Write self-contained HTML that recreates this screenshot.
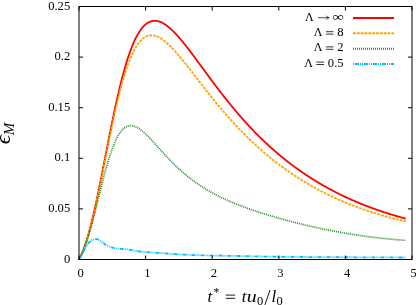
<!DOCTYPE html>
<html><head><meta charset="utf-8"><title>plot</title>
<style>
html,body{margin:0;padding:0;background:#fff;}
svg{display:block;will-change:transform;}
text{font-family:"Liberation Serif",serif;fill:#000;}
.tk{font-size:12px;}
.it{font-style:italic;}
</style></head><body>
<svg width="416" height="305" viewBox="0 0 416 305">
<rect x="0" y="0" width="416" height="305" fill="#fff"/>
<g fill="none" stroke-linejoin="round">
<path d="M79.00,259.50 L79.25,259.04 L79.75,258.07 L80.25,257.07 L80.75,256.02 L81.25,254.93 L81.75,253.80 L82.25,252.62 L82.75,251.39 L83.25,250.12 L83.75,248.81 L84.25,247.44 L84.75,246.03 L85.25,244.58 L85.75,243.08 L86.25,241.53 L86.75,239.94 L87.25,238.31 L87.75,236.62 L88.25,234.90 L88.75,233.13 L89.25,231.31 L89.75,229.46 L90.25,227.56 L90.75,225.62 L91.25,223.64 L91.75,221.63 L92.25,219.57 L92.75,217.48 L93.25,215.35 L93.75,213.19 L94.25,210.99 L94.75,208.76 L95.25,206.50 L95.75,204.21 L96.25,201.89 L96.75,199.54 L97.25,197.17 L97.75,194.78 L98.25,192.36 L98.75,189.92 L99.25,187.46 L99.75,184.98 L100.25,182.49 L100.75,179.98 L101.25,177.46 L101.75,174.93 L102.25,172.38 L102.75,169.83 L103.25,167.27 L103.75,164.70 L104.25,162.13 L104.75,159.56 L105.25,156.98 L105.75,154.41 L106.25,151.83 L106.75,149.26 L107.25,146.70 L107.75,144.14 L108.25,141.59 L108.75,139.04 L109.25,136.51 L109.75,133.98 L110.25,131.47 L110.75,128.98 L111.25,126.49 L111.75,124.03 L112.25,121.58 L112.75,119.14 L113.25,116.73 L113.75,114.34 L114.25,111.97 L114.75,109.62 L115.25,107.29 L115.75,104.99 L116.25,102.71 L116.75,100.46 L117.25,98.23 L117.75,96.03 L118.25,93.86 L118.75,91.72 L119.25,89.60 L119.75,87.52 L120.25,85.46 L120.75,83.44 L121.25,81.44 L121.75,79.48 L122.25,77.55 L122.75,75.65 L123.25,73.78 L123.75,71.95 L124.25,70.15 L124.75,68.38 L125.25,66.65 L125.75,64.95 L126.25,63.29 L126.75,61.65 L127.25,60.06 L127.75,58.49 L128.25,56.97 L128.75,55.47 L129.25,54.01 L129.75,52.59 L130.25,51.20 L130.75,49.84 L131.25,48.52 L131.75,47.23 L132.25,45.98 L132.75,44.76 L133.25,43.57 L133.75,42.42 L134.25,41.30 L134.75,40.22 L135.25,39.17 L135.75,38.15 L136.25,37.16 L136.75,36.21 L137.25,35.29 L137.75,34.40 L138.25,33.54 L138.75,32.71 L139.25,31.92 L139.75,31.15 L140.25,30.42 L140.75,29.71 L141.25,29.04 L141.75,28.39 L142.25,27.78 L142.75,27.19 L143.25,26.63 L143.75,26.10 L144.25,25.60 L144.75,25.12 L145.25,24.67 L145.75,24.25 L146.25,23.86 L146.75,23.49 L147.25,23.14 L147.75,22.82 L148.25,22.53 L148.75,22.26 L149.25,22.01 L149.75,21.79 L150.25,21.59 L150.75,21.42 L151.25,21.26 L151.75,21.13 L152.25,21.02 L152.75,20.93 L153.25,20.86 L153.75,20.82 L154.25,20.79 L154.75,20.78 L155.25,20.79 L155.75,20.82 L156.25,20.87 L156.75,20.94 L157.25,21.03 L157.75,21.13 L158.25,21.25 L158.75,21.39 L159.25,21.54 L159.75,21.71 L160.25,21.90 L160.75,22.10 L161.25,22.32 L161.75,22.55 L162.25,22.80 L162.75,23.06 L163.25,23.33 L163.75,23.62 L164.25,23.92 L164.75,24.24 L165.25,24.57 L165.75,24.90 L166.25,25.26 L166.75,25.62 L167.25,25.99 L167.75,26.38 L168.25,26.78 L168.75,27.18 L169.25,27.60 L169.75,28.03 L170.25,28.47 L170.75,28.91 L171.25,29.37 L171.75,29.84 L172.25,30.31 L172.75,30.79 L173.25,31.28 L173.75,31.78 L174.25,32.29 L174.75,32.81 L175.25,33.33 L175.75,33.86 L176.25,34.39 L176.75,34.94 L177.25,35.49 L177.75,36.04 L178.25,36.60 L178.75,37.17 L179.25,37.74 L179.75,38.32 L180.25,38.91 L180.75,39.50 L181.25,40.09 L181.75,40.69 L182.25,41.30 L182.75,41.91 L183.25,42.52 L183.75,43.14 L184.25,43.76 L184.75,44.38 L185.25,45.01 L185.75,45.64 L186.25,46.28 L186.75,46.92 L187.25,47.56 L187.75,48.20 L188.25,48.85 L188.75,49.50 L189.25,50.15 L189.75,50.81 L190.25,51.47 L190.75,52.13 L191.25,52.79 L191.75,53.45 L192.25,54.12 L192.75,54.78 L193.25,55.45 L193.75,56.12 L194.25,56.80 L194.75,57.47 L195.25,58.14 L195.75,58.82 L196.25,59.50 L196.75,60.17 L197.25,60.85 L197.75,61.53 L198.25,62.21 L198.75,62.89 L199.25,63.57 L199.75,64.25 L200.25,64.93 L200.75,65.61 L201.25,66.30 L201.75,66.98 L202.25,67.66 L202.75,68.34 L203.25,69.02 L203.75,69.71 L204.25,70.39 L204.75,71.07 L205.25,71.75 L205.75,72.43 L206.25,73.11 L206.75,73.79 L207.25,74.47 L207.75,75.15 L208.25,75.82 L208.75,76.50 L209.25,77.18 L209.75,77.85 L210.25,78.53 L210.75,79.20 L211.25,79.87 L211.75,80.54 L212.25,81.22 L212.75,81.88 L213.25,82.55 L213.75,83.22 L214.25,83.89 L214.75,84.55 L215.25,85.21 L215.75,85.88 L216.25,86.54 L216.75,87.20 L217.25,87.85 L217.75,88.51 L218.25,89.17 L218.75,89.82 L219.25,90.47 L219.75,91.12 L220.25,91.77 L220.75,92.42 L221.25,93.07 L221.75,93.71 L222.25,94.35 L222.75,94.99 L223.25,95.63 L223.75,96.27 L224.25,96.91 L224.75,97.54 L225.25,98.17 L225.75,98.80 L226.25,99.43 L226.75,100.06 L227.25,100.68 L227.75,101.31 L228.25,101.93 L228.75,102.55 L229.25,103.17 L229.75,103.78 L230.25,104.40 L230.75,105.01 L231.25,105.62 L231.75,106.23 L232.25,106.83 L232.75,107.44 L233.25,108.04 L233.75,108.64 L234.25,109.24 L234.75,109.83 L235.25,110.43 L235.75,111.02 L236.25,111.61 L236.75,112.20 L237.25,112.78 L237.75,113.37 L238.25,113.95 L238.75,114.53 L239.25,115.11 L239.75,115.69 L240.25,116.26 L240.75,116.83 L241.25,117.40 L241.75,117.97 L242.25,118.54 L242.75,119.10 L243.25,119.66 L243.75,120.22 L244.25,120.78 L244.75,121.33 L245.25,121.89 L245.75,122.44 L246.25,122.99 L246.75,123.53 L247.25,124.08 L247.75,124.62 L248.25,125.16 L248.75,125.70 L249.25,126.24 L249.75,126.78 L250.25,127.31 L250.75,127.84 L251.25,128.37 L251.75,128.89 L252.25,129.42 L252.75,129.94 L253.25,130.46 L253.75,130.98 L254.25,131.50 L254.75,132.01 L255.25,132.52 L255.75,133.03 L256.25,133.54 L256.75,134.05 L257.25,134.55 L257.75,135.05 L258.25,135.56 L258.75,136.05 L259.25,136.55 L259.75,137.04 L260.25,137.54 L260.75,138.03 L261.25,138.51 L261.75,139.00 L262.25,139.49 L262.75,139.97 L263.25,140.45 L263.75,140.93 L264.25,141.40 L264.75,141.88 L265.25,142.35 L265.75,142.82 L266.25,143.29 L266.75,143.76 L267.25,144.22 L267.75,144.68 L268.25,145.14 L268.75,145.60 L269.25,146.06 L269.75,146.52 L270.25,146.97 L270.75,147.42 L271.25,147.87 L271.75,148.32 L272.25,148.76 L272.75,149.21 L273.25,149.65 L273.75,150.09 L274.25,150.53 L274.75,150.96 L275.25,151.40 L275.75,151.83 L276.25,152.26 L276.75,152.69 L277.25,153.12 L277.75,153.54 L278.25,153.97 L278.75,154.39 L279.25,154.81 L279.75,155.23 L280.25,155.64 L280.75,156.06 L281.25,156.47 L281.75,156.88 L282.25,157.29 L282.75,157.70 L283.25,158.11 L283.75,158.51 L284.25,158.91 L284.75,159.31 L285.25,159.71 L285.75,160.11 L286.25,160.51 L286.75,160.90 L287.25,161.29 L287.75,161.68 L288.25,162.07 L288.75,162.46 L289.25,162.85 L289.75,163.23 L290.25,163.61 L290.75,163.99 L291.25,164.37 L291.75,164.75 L292.25,165.12 L292.75,165.50 L293.25,165.87 L293.75,166.24 L294.25,166.61 L294.75,166.98 L295.25,167.35 L295.75,167.71 L296.25,168.07 L296.75,168.43 L297.25,168.79 L297.75,169.15 L298.25,169.51 L298.75,169.86 L299.25,170.22 L299.75,170.57 L300.25,170.92 L300.75,171.27 L301.25,171.62 L301.75,171.96 L302.25,172.31 L302.75,172.65 L303.25,172.99 L303.75,173.33 L304.25,173.67 L304.75,174.01 L305.25,174.34 L305.75,174.68 L306.25,175.01 L306.75,175.34 L307.25,175.67 L307.75,176.00 L308.25,176.32 L308.75,176.65 L309.25,176.97 L309.75,177.30 L310.25,177.62 L310.75,177.94 L311.25,178.25 L311.75,178.57 L312.25,178.89 L312.75,179.20 L313.25,179.51 L313.75,179.82 L314.25,180.13 L314.75,180.44 L315.25,180.75 L315.75,181.06 L316.25,181.36 L316.75,181.66 L317.25,181.97 L317.75,182.27 L318.25,182.57 L318.75,182.86 L319.25,183.16 L319.75,183.46 L320.25,183.75 L320.75,184.04 L321.25,184.33 L321.75,184.62 L322.25,184.91 L322.75,185.20 L323.25,185.49 L323.75,185.77 L324.25,186.05 L324.75,186.34 L325.25,186.62 L325.75,186.90 L326.25,187.18 L326.75,187.45 L327.25,187.73 L327.75,188.00 L328.25,188.28 L328.75,188.55 L329.25,188.82 L329.75,189.09 L330.25,189.36 L330.75,189.63 L331.25,189.90 L331.75,190.16 L332.25,190.42 L332.75,190.69 L333.25,190.95 L333.75,191.21 L334.25,191.47 L334.75,191.73 L335.25,191.98 L335.75,192.24 L336.25,192.50 L336.75,192.75 L337.25,193.00 L337.75,193.25 L338.25,193.50 L338.75,193.75 L339.25,194.00 L339.75,194.25 L340.25,194.49 L340.75,194.74 L341.25,194.98 L341.75,195.22 L342.25,195.47 L342.75,195.71 L343.25,195.95 L343.75,196.18 L344.25,196.42 L344.75,196.66 L345.25,196.89 L345.75,197.13 L346.25,197.36 L346.75,197.59 L347.25,197.82 L347.75,198.05 L348.25,198.28 L348.75,198.51 L349.25,198.73 L349.75,198.96 L350.25,199.18 L350.75,199.41 L351.25,199.63 L351.75,199.85 L352.25,200.07 L352.75,200.29 L353.25,200.51 L353.75,200.73 L354.25,200.95 L354.75,201.16 L355.25,201.38 L355.75,201.59 L356.25,201.80 L356.75,202.01 L357.25,202.22 L357.75,202.43 L358.25,202.64 L358.75,202.85 L359.25,203.06 L359.75,203.26 L360.25,203.47 L360.75,203.67 L361.25,203.88 L361.75,204.08 L362.25,204.28 L362.75,204.48 L363.25,204.68 L363.75,204.88 L364.25,205.08 L364.75,205.27 L365.25,205.47 L365.75,205.66 L366.25,205.86 L366.75,206.05 L367.25,206.24 L367.75,206.43 L368.25,206.62 L368.75,206.81 L369.25,207.00 L369.75,207.19 L370.25,207.38 L370.75,207.56 L371.25,207.75 L371.75,207.93 L372.25,208.12 L372.75,208.30 L373.25,208.48 L373.75,208.66 L374.25,208.84 L374.75,209.02 L375.25,209.20 L375.75,209.38 L376.25,209.56 L376.75,209.73 L377.25,209.91 L377.75,210.08 L378.25,210.26 L378.75,210.43 L379.25,210.60 L379.75,210.77 L380.25,210.94 L380.75,211.11 L381.25,211.28 L381.75,211.45 L382.25,211.62 L382.75,211.78 L383.25,211.95 L383.75,212.11 L384.25,212.28 L384.75,212.44 L385.25,212.60 L385.75,212.77 L386.25,212.93 L386.75,213.09 L387.25,213.25 L387.75,213.41 L388.25,213.56 L388.75,213.72 L389.25,213.88 L389.75,214.03 L390.25,214.19 L390.75,214.34 L391.25,214.50 L391.75,214.65 L392.25,214.80 L392.75,214.95 L393.25,215.10 L393.75,215.25 L394.25,215.40 L394.75,215.55 L395.25,215.70 L395.75,215.85 L396.25,215.99 L396.75,216.14 L397.25,216.29 L397.75,216.43 L398.25,216.57 L398.75,216.72 L399.25,216.86 L399.75,217.00 L400.25,217.14 L400.75,217.28 L401.25,217.42 L401.75,217.56 L402.25,217.70 L402.75,217.84 L403.25,217.97 L403.75,218.11 L404.25,218.25 L404.75,218.38 L405.25,218.52 L405.75,218.65 L405.80,218.66" stroke="#ff0000" stroke-width="1.8"/>
<path d="M79.00,259.50 L79.25,259.07 L79.75,258.17 L80.25,257.23 L80.75,256.25 L81.25,255.22 L81.75,254.15 L82.25,253.04 L82.75,251.88 L83.25,250.67 L83.75,249.42 L84.25,248.12 L84.75,246.77 L85.25,245.38 L85.75,243.94 L86.25,242.45 L86.75,240.92 L87.25,239.34 L87.75,237.71 L88.25,236.04 L88.75,234.32 L89.25,232.55 L89.75,230.75 L90.25,228.90 L90.75,227.00 L91.25,225.07 L91.75,223.09 L92.25,221.07 L92.75,219.02 L93.25,216.93 L93.75,214.80 L94.25,212.64 L94.75,210.44 L95.25,208.21 L95.75,205.95 L96.25,203.66 L96.75,201.35 L97.25,199.00 L97.75,196.64 L98.25,194.25 L98.75,191.83 L99.25,189.40 L99.75,186.95 L100.25,184.49 L100.75,182.00 L101.25,179.51 L101.75,177.00 L102.25,174.49 L102.75,171.97 L103.25,169.44 L103.75,166.90 L104.25,164.37 L104.75,161.83 L105.25,159.29 L105.75,156.75 L106.25,154.22 L106.75,151.69 L107.25,149.17 L107.75,146.66 L108.25,144.15 L108.75,141.66 L109.25,139.18 L109.75,136.71 L110.25,134.26 L110.75,131.82 L111.25,129.41 L111.75,127.01 L112.25,124.63 L112.75,122.27 L113.25,119.93 L113.75,117.62 L114.25,115.33 L114.75,113.06 L115.25,110.83 L115.75,108.61 L116.25,106.43 L116.75,104.28 L117.25,102.15 L117.75,100.05 L118.25,97.99 L118.75,95.95 L119.25,93.95 L119.75,91.98 L120.25,90.04 L120.75,88.14 L121.25,86.27 L121.75,84.43 L122.25,82.63 L122.75,80.87 L123.25,79.13 L123.75,77.44 L124.25,75.78 L124.75,74.15 L125.25,72.56 L125.75,71.01 L126.25,69.49 L126.75,68.01 L127.25,66.56 L127.75,65.15 L128.25,63.78 L128.75,62.44 L129.25,61.14 L129.75,59.87 L130.25,58.64 L130.75,57.45 L131.25,56.29 L131.75,55.17 L132.25,54.08 L132.75,53.02 L133.25,52.00 L133.75,51.02 L134.25,50.06 L134.75,49.15 L135.25,48.26 L135.75,47.41 L136.25,46.59 L136.75,45.81 L137.25,45.05 L137.75,44.33 L138.25,43.64 L138.75,42.98 L139.25,42.35 L139.75,41.75 L140.25,41.18 L140.75,40.64 L141.25,40.13 L141.75,39.65 L142.25,39.19 L142.75,38.77 L143.25,38.37 L143.75,38.00 L144.25,37.65 L144.75,37.33 L145.25,37.04 L145.75,36.77 L146.25,36.53 L146.75,36.31 L147.25,36.11 L147.75,35.94 L148.25,35.79 L148.75,35.67 L149.25,35.56 L149.75,35.48 L150.25,35.42 L150.75,35.38 L151.25,35.36 L151.75,35.36 L152.25,35.39 L152.75,35.43 L153.25,35.49 L153.75,35.56 L154.25,35.66 L154.75,35.77 L155.25,35.90 L155.75,36.05 L156.25,36.22 L156.75,36.40 L157.25,36.59 L157.75,36.81 L158.25,37.03 L158.75,37.28 L159.25,37.53 L159.75,37.80 L160.25,38.09 L160.75,38.38 L161.25,38.69 L161.75,39.02 L162.25,39.35 L162.75,39.70 L163.25,40.06 L163.75,40.43 L164.25,40.81 L164.75,41.20 L165.25,41.60 L165.75,42.01 L166.25,42.44 L166.75,42.87 L167.25,43.31 L167.75,43.76 L168.25,44.22 L168.75,44.69 L169.25,45.16 L169.75,45.65 L170.25,46.14 L170.75,46.64 L171.25,47.14 L171.75,47.66 L172.25,48.18 L172.75,48.70 L173.25,49.24 L173.75,49.77 L174.25,50.32 L174.75,50.87 L175.25,51.43 L175.75,51.99 L176.25,52.55 L176.75,53.12 L177.25,53.70 L177.75,54.28 L178.25,54.87 L178.75,55.45 L179.25,56.05 L179.75,56.64 L180.25,57.24 L180.75,57.85 L181.25,58.46 L181.75,59.07 L182.25,59.68 L182.75,60.30 L183.25,60.91 L183.75,61.54 L184.25,62.16 L184.75,62.79 L185.25,63.42 L185.75,64.05 L186.25,64.68 L186.75,65.31 L187.25,65.95 L187.75,66.59 L188.25,67.23 L188.75,67.87 L189.25,68.51 L189.75,69.15 L190.25,69.80 L190.75,70.44 L191.25,71.09 L191.75,71.74 L192.25,72.38 L192.75,73.03 L193.25,73.68 L193.75,74.33 L194.25,74.98 L194.75,75.63 L195.25,76.28 L195.75,76.93 L196.25,77.58 L196.75,78.23 L197.25,78.88 L197.75,79.53 L198.25,80.18 L198.75,80.83 L199.25,81.47 L199.75,82.12 L200.25,82.77 L200.75,83.42 L201.25,84.06 L201.75,84.71 L202.25,85.35 L202.75,86.00 L203.25,86.64 L203.75,87.29 L204.25,87.93 L204.75,88.57 L205.25,89.21 L205.75,89.85 L206.25,90.49 L206.75,91.12 L207.25,91.76 L207.75,92.39 L208.25,93.03 L208.75,93.66 L209.25,94.29 L209.75,94.92 L210.25,95.55 L210.75,96.17 L211.25,96.80 L211.75,97.42 L212.25,98.04 L212.75,98.66 L213.25,99.28 L213.75,99.90 L214.25,100.52 L214.75,101.13 L215.25,101.75 L215.75,102.36 L216.25,102.97 L216.75,103.57 L217.25,104.18 L217.75,104.79 L218.25,105.39 L218.75,105.99 L219.25,106.59 L219.75,107.19 L220.25,107.78 L220.75,108.38 L221.25,108.97 L221.75,109.56 L222.25,110.15 L222.75,110.73 L223.25,111.32 L223.75,111.90 L224.25,112.48 L224.75,113.06 L225.25,113.64 L225.75,114.22 L226.25,114.79 L226.75,115.36 L227.25,115.93 L227.75,116.50 L228.25,117.06 L228.75,117.63 L229.25,118.19 L229.75,118.75 L230.25,119.31 L230.75,119.86 L231.25,120.42 L231.75,120.97 L232.25,121.52 L232.75,122.07 L233.25,122.62 L233.75,123.16 L234.25,123.70 L234.75,124.24 L235.25,124.78 L235.75,125.32 L236.25,125.85 L236.75,126.39 L237.25,126.92 L237.75,127.44 L238.25,127.97 L238.75,128.50 L239.25,129.02 L239.75,129.54 L240.25,130.06 L240.75,130.57 L241.25,131.09 L241.75,131.60 L242.25,132.11 L242.75,132.62 L243.25,133.13 L243.75,133.63 L244.25,134.13 L244.75,134.64 L245.25,135.13 L245.75,135.63 L246.25,136.13 L246.75,136.62 L247.25,137.11 L247.75,137.60 L248.25,138.09 L248.75,138.57 L249.25,139.06 L249.75,139.54 L250.25,140.02 L250.75,140.50 L251.25,140.97 L251.75,141.45 L252.25,141.92 L252.75,142.39 L253.25,142.86 L253.75,143.32 L254.25,143.79 L254.75,144.25 L255.25,144.71 L255.75,145.17 L256.25,145.62 L256.75,146.08 L257.25,146.53 L257.75,146.98 L258.25,147.43 L258.75,147.88 L259.25,148.33 L259.75,148.77 L260.25,149.21 L260.75,149.65 L261.25,150.09 L261.75,150.53 L262.25,150.96 L262.75,151.40 L263.25,151.83 L263.75,152.26 L264.25,152.69 L264.75,153.11 L265.25,153.54 L265.75,153.96 L266.25,154.38 L266.75,154.80 L267.25,155.22 L267.75,155.63 L268.25,156.05 L268.75,156.46 L269.25,156.87 L269.75,157.28 L270.25,157.68 L270.75,158.09 L271.25,158.49 L271.75,158.89 L272.25,159.29 L272.75,159.69 L273.25,160.09 L273.75,160.48 L274.25,160.88 L274.75,161.27 L275.25,161.66 L275.75,162.05 L276.25,162.44 L276.75,162.82 L277.25,163.20 L277.75,163.59 L278.25,163.97 L278.75,164.35 L279.25,164.72 L279.75,165.10 L280.25,165.47 L280.75,165.84 L281.25,166.21 L281.75,166.58 L282.25,166.95 L282.75,167.32 L283.25,167.68 L283.75,168.04 L284.25,168.41 L284.75,168.77 L285.25,169.12 L285.75,169.48 L286.25,169.84 L286.75,170.19 L287.25,170.54 L287.75,170.89 L288.25,171.24 L288.75,171.59 L289.25,171.94 L289.75,172.28 L290.25,172.62 L290.75,172.97 L291.25,173.31 L291.75,173.64 L292.25,173.98 L292.75,174.32 L293.25,174.65 L293.75,174.98 L294.25,175.32 L294.75,175.65 L295.25,175.98 L295.75,176.30 L296.25,176.63 L296.75,176.95 L297.25,177.28 L297.75,177.60 L298.25,177.92 L298.75,178.24 L299.25,178.55 L299.75,178.87 L300.25,179.18 L300.75,179.50 L301.25,179.81 L301.75,180.12 L302.25,180.43 L302.75,180.74 L303.25,181.04 L303.75,181.35 L304.25,181.65 L304.75,181.95 L305.25,182.26 L305.75,182.56 L306.25,182.85 L306.75,183.15 L307.25,183.45 L307.75,183.74 L308.25,184.03 L308.75,184.33 L309.25,184.62 L309.75,184.91 L310.25,185.19 L310.75,185.48 L311.25,185.77 L311.75,186.05 L312.25,186.33 L312.75,186.62 L313.25,186.90 L313.75,187.18 L314.25,187.45 L314.75,187.73 L315.25,188.01 L315.75,188.28 L316.25,188.55 L316.75,188.83 L317.25,189.10 L317.75,189.37 L318.25,189.63 L318.75,189.90 L319.25,190.17 L319.75,190.43 L320.25,190.69 L320.75,190.96 L321.25,191.22 L321.75,191.48 L322.25,191.74 L322.75,191.99 L323.25,192.25 L323.75,192.51 L324.25,192.76 L324.75,193.01 L325.25,193.26 L325.75,193.51 L326.25,193.76 L326.75,194.01 L327.25,194.26 L327.75,194.51 L328.25,194.75 L328.75,194.99 L329.25,195.24 L329.75,195.48 L330.25,195.72 L330.75,195.96 L331.25,196.20 L331.75,196.43 L332.25,196.67 L332.75,196.90 L333.25,197.14 L333.75,197.37 L334.25,197.60 L334.75,197.83 L335.25,198.06 L335.75,198.29 L336.25,198.52 L336.75,198.75 L337.25,198.97 L337.75,199.20 L338.25,199.42 L338.75,199.64 L339.25,199.86 L339.75,200.08 L340.25,200.30 L340.75,200.52 L341.25,200.74 L341.75,200.95 L342.25,201.17 L342.75,201.38 L343.25,201.59 L343.75,201.81 L344.25,202.02 L344.75,202.23 L345.25,202.44 L345.75,202.64 L346.25,202.85 L346.75,203.06 L347.25,203.26 L347.75,203.47 L348.25,203.67 L348.75,203.87 L349.25,204.07 L349.75,204.27 L350.25,204.47 L350.75,204.67 L351.25,204.87 L351.75,205.07 L352.25,205.26 L352.75,205.46 L353.25,205.65 L353.75,205.84 L354.25,206.03 L354.75,206.22 L355.25,206.41 L355.75,206.60 L356.25,206.79 L356.75,206.98 L357.25,207.16 L357.75,207.35 L358.25,207.53 L358.75,207.72 L359.25,207.90 L359.75,208.08 L360.25,208.26 L360.75,208.44 L361.25,208.62 L361.75,208.80 L362.25,208.98 L362.75,209.15 L363.25,209.33 L363.75,209.50 L364.25,209.68 L364.75,209.85 L365.25,210.02 L365.75,210.19 L366.25,210.36 L366.75,210.53 L367.25,210.70 L367.75,210.87 L368.25,211.04 L368.75,211.20 L369.25,211.37 L369.75,211.53 L370.25,211.70 L370.75,211.86 L371.25,212.02 L371.75,212.18 L372.25,212.34 L372.75,212.50 L373.25,212.66 L373.75,212.82 L374.25,212.98 L374.75,213.13 L375.25,213.29 L375.75,213.44 L376.25,213.60 L376.75,213.75 L377.25,213.90 L377.75,214.05 L378.25,214.21 L378.75,214.36 L379.25,214.50 L379.75,214.65 L380.25,214.80 L380.75,214.95 L381.25,215.09 L381.75,215.24 L382.25,215.38 L382.75,215.53 L383.25,215.67 L383.75,215.81 L384.25,215.95 L384.75,216.10 L385.25,216.24 L385.75,216.38 L386.25,216.51 L386.75,216.65 L387.25,216.79 L387.75,216.93 L388.25,217.06 L388.75,217.20 L389.25,217.33 L389.75,217.46 L390.25,217.60 L390.75,217.73 L391.25,217.86 L391.75,217.99 L392.25,218.12 L392.75,218.25 L393.25,218.38 L393.75,218.51 L394.25,218.63 L394.75,218.76 L395.25,218.89 L395.75,219.01 L396.25,219.14 L396.75,219.26 L397.25,219.38 L397.75,219.50 L398.25,219.63 L398.75,219.75 L399.25,219.87 L399.75,219.99 L400.25,220.11 L400.75,220.22 L401.25,220.34 L401.75,220.46 L402.25,220.58 L402.75,220.69 L403.25,220.81 L403.75,220.92 L404.25,221.03 L404.75,221.15 L405.25,221.26 L405.75,221.37 L405.80,221.38" stroke="#ffa500" stroke-width="1.8" stroke-dasharray="2.8 1.05"/>
<path d="M79.00,259.50 L79.25,259.05 L79.75,258.13 L80.25,257.17 L80.75,256.17 L81.25,255.15 L81.75,254.08 L82.25,252.97 L82.75,251.83 L83.25,250.64 L83.75,249.42 L84.25,248.15 L84.75,246.85 L85.25,245.50 L85.75,244.11 L86.25,242.68 L86.75,241.21 L87.25,239.70 L87.75,238.15 L88.25,236.56 L88.75,234.93 L89.25,233.27 L89.75,231.57 L90.25,229.84 L90.75,228.08 L91.25,226.29 L91.75,224.46 L92.25,222.61 L92.75,220.73 L93.25,218.83 L93.75,216.91 L94.25,214.96 L94.75,213.00 L95.25,211.02 L95.75,209.03 L96.25,207.02 L96.75,205.01 L97.25,202.99 L97.75,200.96 L98.25,198.94 L98.75,196.91 L99.25,194.88 L99.75,192.85 L100.25,190.84 L100.75,188.82 L101.25,186.82 L101.75,184.84 L102.25,182.86 L102.75,180.90 L103.25,178.96 L103.75,177.04 L104.25,175.14 L104.75,173.27 L105.25,171.42 L105.75,169.59 L106.25,167.79 L106.75,166.03 L107.25,164.29 L107.75,162.59 L108.25,160.91 L108.75,159.28 L109.25,157.67 L109.75,156.11 L110.25,154.58 L110.75,153.09 L111.25,151.63 L111.75,150.22 L112.25,148.84 L112.75,147.51 L113.25,146.22 L113.75,144.96 L114.25,143.75 L114.75,142.58 L115.25,141.45 L115.75,140.37 L116.25,139.32 L116.75,138.32 L117.25,137.35 L117.75,136.43 L118.25,135.55 L118.75,134.71 L119.25,133.92 L119.75,133.16 L120.25,132.44 L120.75,131.76 L121.25,131.12 L121.75,130.52 L122.25,129.96 L122.75,129.43 L123.25,128.95 L123.75,128.49 L124.25,128.08 L124.75,127.70 L125.25,127.35 L125.75,127.04 L126.25,126.76 L126.75,126.51 L127.25,126.30 L127.75,126.11 L128.25,125.96 L128.75,125.84 L129.25,125.74 L129.75,125.67 L130.25,125.63 L130.75,125.62 L131.25,125.63 L131.75,125.67 L132.25,125.73 L132.75,125.82 L133.25,125.93 L133.75,126.06 L134.25,126.21 L134.75,126.39 L135.25,126.58 L135.75,126.79 L136.25,127.02 L136.75,127.27 L137.25,127.54 L137.75,127.83 L138.25,128.13 L138.75,128.44 L139.25,128.77 L139.75,129.12 L140.25,129.47 L140.75,129.85 L141.25,130.23 L141.75,130.63 L142.25,131.03 L142.75,131.45 L143.25,131.88 L143.75,132.32 L144.25,132.77 L144.75,133.22 L145.25,133.69 L145.75,134.16 L146.25,134.64 L146.75,135.13 L147.25,135.62 L147.75,136.12 L148.25,136.63 L148.75,137.14 L149.25,137.65 L149.75,138.17 L150.25,138.70 L150.75,139.23 L151.25,139.76 L151.75,140.30 L152.25,140.84 L152.75,141.38 L153.25,141.92 L153.75,142.47 L154.25,143.02 L154.75,143.57 L155.25,144.12 L155.75,144.67 L156.25,145.22 L156.75,145.78 L157.25,146.33 L157.75,146.89 L158.25,147.44 L158.75,147.99 L159.25,148.55 L159.75,149.10 L160.25,149.66 L160.75,150.21 L161.25,150.76 L161.75,151.31 L162.25,151.86 L162.75,152.41 L163.25,152.95 L163.75,153.50 L164.25,154.04 L164.75,154.58 L165.25,155.12 L165.75,155.65 L166.25,156.19 L166.75,156.72 L167.25,157.25 L167.75,157.78 L168.25,158.30 L168.75,158.83 L169.25,159.35 L169.75,159.86 L170.25,160.38 L170.75,160.89 L171.25,161.40 L171.75,161.90 L172.25,162.41 L172.75,162.91 L173.25,163.40 L173.75,163.90 L174.25,164.39 L174.75,164.88 L175.25,165.36 L175.75,165.84 L176.25,166.32 L176.75,166.80 L177.25,167.27 L177.75,167.74 L178.25,168.20 L178.75,168.66 L179.25,169.12 L179.75,169.58 L180.25,170.03 L180.75,170.48 L181.25,170.93 L181.75,171.37 L182.25,171.81 L182.75,172.24 L183.25,172.68 L183.75,173.11 L184.25,173.53 L184.75,173.95 L185.25,174.37 L185.75,174.79 L186.25,175.20 L186.75,175.61 L187.25,176.02 L187.75,176.43 L188.25,176.83 L188.75,177.22 L189.25,177.62 L189.75,178.01 L190.25,178.40 L190.75,178.78 L191.25,179.16 L191.75,179.54 L192.25,179.92 L192.75,180.29 L193.25,180.66 L193.75,181.03 L194.25,181.39 L194.75,181.76 L195.25,182.11 L195.75,182.47 L196.25,182.82 L196.75,183.17 L197.25,183.52 L197.75,183.86 L198.25,184.21 L198.75,184.54 L199.25,184.88 L199.75,185.21 L200.25,185.55 L200.75,185.87 L201.25,186.20 L201.75,186.52 L202.25,186.84 L202.75,187.16 L203.25,187.48 L203.75,187.79 L204.25,188.10 L204.75,188.41 L205.25,188.72 L205.75,189.02 L206.25,189.32 L206.75,189.62 L207.25,189.92 L207.75,190.21 L208.25,190.50 L208.75,190.79 L209.25,191.08 L209.75,191.37 L210.25,191.65 L210.75,191.93 L211.25,192.21 L211.75,192.49 L212.25,192.76 L212.75,193.04 L213.25,193.31 L213.75,193.58 L214.25,193.85 L214.75,194.11 L215.25,194.37 L215.75,194.64 L216.25,194.90 L216.75,195.15 L217.25,195.41 L217.75,195.66 L218.25,195.92 L218.75,196.17 L219.25,196.42 L219.75,196.66 L220.25,196.91 L220.75,197.15 L221.25,197.40 L221.75,197.64 L222.25,197.88 L222.75,198.11 L223.25,198.35 L223.75,198.58 L224.25,198.82 L224.75,199.05 L225.25,199.28 L225.75,199.51 L226.25,199.73 L226.75,199.96 L227.25,200.18 L227.75,200.41 L228.25,200.63 L228.75,200.85 L229.25,201.07 L229.75,201.28 L230.25,201.50 L230.75,201.71 L231.25,201.93 L231.75,202.14 L232.25,202.35 L232.75,202.56 L233.25,202.77 L233.75,202.98 L234.25,203.18 L234.75,203.39 L235.25,203.59 L235.75,203.79 L236.25,203.99 L236.75,204.19 L237.25,204.39 L237.75,204.59 L238.25,204.79 L238.75,204.99 L239.25,205.18 L239.75,205.37 L240.25,205.57 L240.75,205.76 L241.25,205.95 L241.75,206.14 L242.25,206.33 L242.75,206.52 L243.25,206.70 L243.75,206.89 L244.25,207.08 L244.75,207.26 L245.25,207.44 L245.75,207.63 L246.25,207.81 L246.75,207.99 L247.25,208.17 L247.75,208.35 L248.25,208.53 L248.75,208.71 L249.25,208.88 L249.75,209.06 L250.25,209.23 L250.75,209.41 L251.25,209.58 L251.75,209.75 L252.25,209.93 L252.75,210.10 L253.25,210.27 L253.75,210.44 L254.25,210.61 L254.75,210.78 L255.25,210.94 L255.75,211.11 L256.25,211.28 L256.75,211.44 L257.25,211.61 L257.75,211.77 L258.25,211.94 L258.75,212.10 L259.25,212.26 L259.75,212.42 L260.25,212.58 L260.75,212.74 L261.25,212.90 L261.75,213.06 L262.25,213.22 L262.75,213.38 L263.25,213.54 L263.75,213.69 L264.25,213.85 L264.75,214.01 L265.25,214.16 L265.75,214.32 L266.25,214.47 L266.75,214.62 L267.25,214.78 L267.75,214.93 L268.25,215.08 L268.75,215.23 L269.25,215.38 L269.75,215.53 L270.25,215.68 L270.75,215.83 L271.25,215.98 L271.75,216.13 L272.25,216.27 L272.75,216.42 L273.25,216.57 L273.75,216.71 L274.25,216.86 L274.75,217.00 L275.25,217.15 L275.75,217.29 L276.25,217.44 L276.75,217.58 L277.25,217.72 L277.75,217.86 L278.25,218.01 L278.75,218.15 L279.25,218.29 L279.75,218.43 L280.25,218.57 L280.75,218.71 L281.25,218.85 L281.75,218.98 L282.25,219.12 L282.75,219.26 L283.25,219.40 L283.75,219.53 L284.25,219.67 L284.75,219.81 L285.25,219.94 L285.75,220.08 L286.25,220.21 L286.75,220.34 L287.25,220.48 L287.75,220.61 L288.25,220.74 L288.75,220.88 L289.25,221.01 L289.75,221.14 L290.25,221.27 L290.75,221.40 L291.25,221.53 L291.75,221.66 L292.25,221.79 L292.75,221.92 L293.25,222.05 L293.75,222.17 L294.25,222.30 L294.75,222.43 L295.25,222.56 L295.75,222.68 L296.25,222.81 L296.75,222.93 L297.25,223.06 L297.75,223.18 L298.25,223.31 L298.75,223.43 L299.25,223.56 L299.75,223.68 L300.25,223.80 L300.75,223.92 L301.25,224.05 L301.75,224.17 L302.25,224.29 L302.75,224.41 L303.25,224.53 L303.75,224.65 L304.25,224.77 L304.75,224.89 L305.25,225.01 L305.75,225.12 L306.25,225.24 L306.75,225.36 L307.25,225.48 L307.75,225.59 L308.25,225.71 L308.75,225.83 L309.25,225.94 L309.75,226.06 L310.25,226.17 L310.75,226.29 L311.25,226.40 L311.75,226.51 L312.25,226.63 L312.75,226.74 L313.25,226.85 L313.75,226.96 L314.25,227.07 L314.75,227.18 L315.25,227.29 L315.75,227.41 L316.25,227.51 L316.75,227.62 L317.25,227.73 L317.75,227.84 L318.25,227.95 L318.75,228.06 L319.25,228.17 L319.75,228.27 L320.25,228.38 L320.75,228.48 L321.25,228.59 L321.75,228.70 L322.25,228.80 L322.75,228.91 L323.25,229.01 L323.75,229.11 L324.25,229.22 L324.75,229.32 L325.25,229.42 L325.75,229.52 L326.25,229.63 L326.75,229.73 L327.25,229.83 L327.75,229.93 L328.25,230.03 L328.75,230.13 L329.25,230.23 L329.75,230.32 L330.25,230.42 L330.75,230.52 L331.25,230.62 L331.75,230.72 L332.25,230.81 L332.75,230.91 L333.25,231.00 L333.75,231.10 L334.25,231.20 L334.75,231.29 L335.25,231.38 L335.75,231.48 L336.25,231.57 L336.75,231.66 L337.25,231.76 L337.75,231.85 L338.25,231.94 L338.75,232.03 L339.25,232.12 L339.75,232.21 L340.25,232.30 L340.75,232.39 L341.25,232.48 L341.75,232.57 L342.25,232.66 L342.75,232.75 L343.25,232.83 L343.75,232.92 L344.25,233.01 L344.75,233.09 L345.25,233.18 L345.75,233.26 L346.25,233.35 L346.75,233.43 L347.25,233.52 L347.75,233.60 L348.25,233.68 L348.75,233.77 L349.25,233.85 L349.75,233.93 L350.25,234.01 L350.75,234.09 L351.25,234.18 L351.75,234.26 L352.25,234.34 L352.75,234.41 L353.25,234.49 L353.75,234.57 L354.25,234.65 L354.75,234.73 L355.25,234.80 L355.75,234.88 L356.25,234.96 L356.75,235.03 L357.25,235.11 L357.75,235.18 L358.25,235.26 L358.75,235.33 L359.25,235.41 L359.75,235.48 L360.25,235.55 L360.75,235.63 L361.25,235.70 L361.75,235.77 L362.25,235.84 L362.75,235.91 L363.25,235.98 L363.75,236.05 L364.25,236.12 L364.75,236.19 L365.25,236.26 L365.75,236.33 L366.25,236.40 L366.75,236.46 L367.25,236.53 L367.75,236.60 L368.25,236.66 L368.75,236.73 L369.25,236.79 L369.75,236.86 L370.25,236.92 L370.75,236.99 L371.25,237.05 L371.75,237.11 L372.25,237.17 L372.75,237.24 L373.25,237.30 L373.75,237.36 L374.25,237.42 L374.75,237.48 L375.25,237.54 L375.75,237.60 L376.25,237.66 L376.75,237.72 L377.25,237.78 L377.75,237.83 L378.25,237.89 L378.75,237.95 L379.25,238.00 L379.75,238.06 L380.25,238.12 L380.75,238.17 L381.25,238.23 L381.75,238.28 L382.25,238.33 L382.75,238.39 L383.25,238.44 L383.75,238.49 L384.25,238.55 L384.75,238.60 L385.25,238.65 L385.75,238.70 L386.25,238.75 L386.75,238.80 L387.25,238.85 L387.75,238.90 L388.25,238.95 L388.75,238.99 L389.25,239.04 L389.75,239.09 L390.25,239.14 L390.75,239.18 L391.25,239.23 L391.75,239.27 L392.25,239.32 L392.75,239.36 L393.25,239.41 L393.75,239.45 L394.25,239.50 L394.75,239.54 L395.25,239.58 L395.75,239.62 L396.25,239.66 L396.75,239.71 L397.25,239.75 L397.75,239.79 L398.25,239.83 L398.75,239.87 L399.25,239.90 L399.75,239.94 L400.25,239.98 L400.75,240.02 L401.25,240.06 L401.75,240.09 L402.25,240.13 L402.75,240.16 L403.25,240.20 L403.75,240.24 L404.25,240.27 L404.75,240.30 L405.25,240.34 L405.75,240.37 L405.80,240.37" stroke="#228b22" stroke-width="1.7" stroke-dasharray="1 1"/>
<path d="M79.00,259.50 L79.50,258.54 L80.00,257.59 L80.50,256.65 L81.00,255.72 L81.50,254.80 L82.00,253.90 L82.50,253.00 L83.00,252.12 L83.50,251.25 L84.00,250.37 L84.50,249.47 L85.00,248.56 L85.50,247.66 L86.00,246.77 L86.50,245.92 L87.00,245.11 L87.50,244.36 L88.00,243.69 L88.50,243.10 L89.00,242.57 L89.50,242.05 L90.00,241.57 L90.50,241.13 L91.00,240.73 L91.50,240.39 L92.00,240.11 L92.50,239.90 L93.00,239.70 L93.50,239.52 L94.00,239.35 L94.50,239.21 L95.00,239.10 L95.50,239.03 L96.00,239.00 L96.50,239.04 L97.00,239.14 L97.50,239.31 L98.00,239.52 L98.50,239.77 L99.00,240.05 L99.50,240.35 L100.00,240.66 L100.50,240.96 L101.00,241.25 L101.50,241.56 L102.00,241.91 L102.50,242.30 L103.00,242.70 L103.50,243.12 L104.00,243.54 L104.50,243.95 L105.00,244.34 L105.50,244.69 L106.00,245.00 L106.50,245.28 L107.00,245.55 L107.50,245.81 L108.00,246.06 L108.50,246.30 L109.00,246.53 L109.50,246.73 L110.00,246.93 L110.50,247.10 L111.00,247.25 L111.50,247.39 L112.00,247.52 L112.50,247.64 L113.00,247.75 L113.50,247.86 L114.00,247.97 L114.50,248.06 L115.00,248.16 L115.50,248.24 L116.00,248.32 L116.50,248.40 L117.00,248.47 L117.50,248.53 L118.00,248.59 L118.50,248.65 L119.00,248.70 L119.50,248.75 L120.00,248.80 L120.50,248.84 L121.00,248.89 L121.50,248.93 L122.00,248.97 L122.50,249.01 L123.00,249.04 L123.50,249.08 L124.00,249.12 L124.50,249.16 L125.00,249.20 L125.50,249.24 L126.00,249.29 L126.50,249.34 L127.00,249.39 L127.50,249.44 L128.00,249.50 L128.50,249.56 L129.00,249.63 L129.50,249.71 L130.00,249.79 L130.50,249.87 L131.00,249.96 L131.50,250.06 L132.00,250.15 L132.50,250.25 L133.00,250.35 L133.50,250.44 L134.00,250.54 L134.50,250.64 L135.00,250.74 L135.50,250.83 L136.00,250.92 L136.50,251.01 L137.00,251.09 L137.50,251.17 L138.00,251.25 L138.50,251.32 L139.00,251.38 L139.50,251.43 L140.00,251.49 L140.50,251.54 L141.00,251.59 L141.50,251.64 L142.00,251.69 L142.50,251.73 L143.00,251.78 L143.50,251.82 L144.00,251.86 L144.50,251.91 L145.00,251.95 L145.50,251.99 L146.00,252.03 L146.50,252.06 L147.00,252.10 L147.50,252.14 L148.00,252.17 L148.50,252.21 L149.00,252.24 L149.50,252.28 L150.00,252.31 L150.50,252.35 L151.00,252.38 L151.50,252.42 L152.00,252.45 L152.50,252.48 L153.00,252.52 L153.50,252.55 L154.00,252.58 L154.50,252.62 L155.00,252.65 L155.50,252.68 L156.00,252.72 L156.50,252.75 L157.00,252.79 L157.50,252.83 L158.00,252.86 L158.50,252.90 L159.00,252.94 L159.50,252.98 L160.00,253.01 L160.50,253.05 L161.00,253.09 L161.50,253.13 L162.00,253.17 L162.50,253.21 L163.00,253.25 L163.50,253.29 L164.00,253.33 L164.50,253.37 L165.00,253.41 L165.50,253.44 L166.00,253.48 L166.50,253.52 L167.00,253.56 L167.50,253.60 L168.00,253.64 L168.50,253.68 L169.00,253.72 L169.50,253.75 L170.00,253.79 L170.50,253.83 L171.00,253.86 L171.50,253.90 L172.00,253.94 L172.50,253.97 L173.00,254.01 L173.50,254.04 L174.00,254.07 L174.50,254.11 L175.00,254.14 L175.50,254.17 L176.00,254.20 L176.50,254.23 L177.00,254.26 L177.50,254.29 L178.00,254.32 L178.50,254.34 L179.00,254.37 L179.50,254.40 L180.00,254.43 L180.50,254.45 L181.00,254.48 L181.50,254.51 L182.00,254.54 L182.50,254.56 L183.00,254.59 L183.50,254.62 L184.00,254.64 L184.50,254.67 L185.00,254.69 L185.50,254.72 L186.00,254.74 L186.50,254.77 L187.00,254.79 L187.50,254.82 L188.00,254.84 L188.50,254.86 L189.00,254.89 L189.50,254.91 L190.00,254.93 L190.50,254.96 L191.00,254.98 L191.50,255.00 L192.00,255.02 L192.50,255.04 L193.00,255.06 L193.50,255.08 L194.00,255.10 L194.50,255.12 L195.00,255.14 L195.50,255.16 L196.00,255.18 L196.50,255.19 L197.00,255.21 L197.50,255.23 L198.00,255.24 L198.50,255.26 L199.00,255.27 L199.50,255.29 L200.00,255.30 L200.50,255.31 L201.00,255.33 L201.50,255.34 L202.00,255.35 L202.50,255.36 L203.00,255.38 L203.50,255.39 L204.00,255.40 L204.50,255.41 L205.00,255.42 L205.50,255.43 L206.00,255.45 L206.50,255.46 L207.00,255.47 L207.50,255.48 L208.00,255.49 L208.50,255.50 L209.00,255.51 L209.50,255.52 L210.00,255.53 L210.50,255.54 L211.00,255.55 L211.50,255.56 L212.00,255.57 L212.50,255.58 L213.00,255.58 L213.50,255.59 L214.00,255.60 L214.50,255.61 L215.00,255.62 L215.50,255.63 L216.00,255.64 L216.50,255.64 L217.00,255.65 L217.50,255.66 L218.00,255.67 L218.50,255.68 L219.00,255.69 L219.50,255.69 L220.00,255.70 L220.50,255.71 L221.00,255.72 L221.50,255.72 L222.00,255.73 L222.50,255.74 L223.00,255.75 L223.50,255.76 L224.00,255.76 L224.50,255.77 L225.00,255.78 L225.50,255.79 L226.00,255.79 L226.50,255.80 L227.00,255.81 L227.50,255.82 L228.00,255.82 L228.50,255.83 L229.00,255.84 L229.50,255.85 L230.00,255.86 L230.50,255.86 L231.00,255.87 L231.50,255.88 L232.00,255.89 L232.50,255.90 L233.00,255.90 L233.50,255.91 L234.00,255.92 L234.50,255.93 L235.00,255.94 L235.50,255.95 L236.00,255.95 L236.50,255.96 L237.00,255.97 L237.50,255.98 L238.00,255.99 L238.50,256.00 L239.00,256.01 L239.50,256.02 L240.00,256.03 L240.50,256.04 L241.00,256.05 L241.50,256.06 L242.00,256.07 L242.50,256.08 L243.00,256.09 L243.50,256.10 L244.00,256.11 L244.50,256.12 L245.00,256.13 L245.50,256.14 L246.00,256.15 L246.50,256.16 L247.00,256.17 L247.50,256.18 L248.00,256.20 L248.50,256.21 L249.00,256.22 L249.50,256.23 L250.00,256.24 L250.50,256.25 L251.00,256.26 L251.50,256.27 L252.00,256.28 L252.50,256.29 L253.00,256.31 L253.50,256.32 L254.00,256.33 L254.50,256.34 L255.00,256.35 L255.50,256.36 L256.00,256.37 L256.50,256.38 L257.00,256.39 L257.50,256.41 L258.00,256.42 L258.50,256.43 L259.00,256.44 L259.50,256.45 L260.00,256.46 L260.50,256.47 L261.00,256.48 L261.50,256.49 L262.00,256.50 L262.50,256.51 L263.00,256.52 L263.50,256.53 L264.00,256.54 L264.50,256.55 L265.00,256.56 L265.50,256.57 L266.00,256.58 L266.50,256.59 L267.00,256.60 L267.50,256.61 L268.00,256.62 L268.50,256.63 L269.00,256.64 L269.50,256.65 L270.00,256.66 L270.50,256.67 L271.00,256.68 L271.50,256.68 L272.00,256.69 L272.50,256.70 L273.00,256.71 L273.50,256.72 L274.00,256.72 L274.50,256.73 L275.00,256.74 L275.50,256.75 L276.00,256.75 L276.50,256.76 L277.00,256.77 L277.50,256.77 L278.00,256.78 L278.50,256.78 L279.00,256.79 L279.50,256.79 L280.00,256.80 L280.50,256.81 L281.00,256.81 L281.50,256.82 L282.00,256.82 L282.50,256.82 L283.00,256.83 L283.50,256.83 L284.00,256.84 L284.50,256.84 L285.00,256.85 L285.50,256.85 L286.00,256.86 L286.50,256.86 L287.00,256.87 L287.50,256.87 L288.00,256.88 L288.50,256.88 L289.00,256.88 L289.50,256.89 L290.00,256.89 L290.50,256.90 L291.00,256.90 L291.50,256.91 L292.00,256.91 L292.50,256.91 L293.00,256.92 L293.50,256.92 L294.00,256.93 L294.50,256.93 L295.00,256.93 L295.50,256.94 L296.00,256.94 L296.50,256.94 L297.00,256.95 L297.50,256.95 L298.00,256.96 L298.50,256.96 L299.00,256.96 L299.50,256.97 L300.00,256.97 L300.50,256.97 L301.00,256.98 L301.50,256.98 L302.00,256.98 L302.50,256.99 L303.00,256.99 L303.50,256.99 L304.00,257.00 L304.50,257.00 L305.00,257.00 L305.50,257.01 L306.00,257.01 L306.50,257.01 L307.00,257.02 L307.50,257.02 L308.00,257.02 L308.50,257.03 L309.00,257.03 L309.50,257.03 L310.00,257.04 L310.50,257.04 L311.00,257.04 L311.50,257.04 L312.00,257.05 L312.50,257.05 L313.00,257.05 L313.50,257.06 L314.00,257.06 L314.50,257.06 L315.00,257.07 L315.50,257.07 L316.00,257.07 L316.50,257.07 L317.00,257.08 L317.50,257.08 L318.00,257.08 L318.50,257.09 L319.00,257.09 L319.50,257.09 L320.00,257.09 L320.50,257.10 L321.00,257.10 L321.50,257.10 L322.00,257.10 L322.50,257.11 L323.00,257.11 L323.50,257.11 L324.00,257.12 L324.50,257.12 L325.00,257.12 L325.50,257.12 L326.00,257.13 L326.50,257.13 L327.00,257.13 L327.50,257.13 L328.00,257.14 L328.50,257.14 L329.00,257.14 L329.50,257.14 L330.00,257.15 L330.50,257.15 L331.00,257.15 L331.50,257.15 L332.00,257.16 L332.50,257.16 L333.00,257.16 L333.50,257.17 L334.00,257.17 L334.50,257.17 L335.00,257.17 L335.50,257.18 L336.00,257.18 L336.50,257.18 L337.00,257.18 L337.50,257.19 L338.00,257.19 L338.50,257.19 L339.00,257.19 L339.50,257.20 L340.00,257.20 L340.50,257.20 L341.00,257.21 L341.50,257.21 L342.00,257.21 L342.50,257.21 L343.00,257.22 L343.50,257.22 L344.00,257.22 L344.50,257.22 L345.00,257.23 L345.50,257.23 L346.00,257.23 L346.50,257.23 L347.00,257.24 L347.50,257.24 L348.00,257.24 L348.50,257.25 L349.00,257.25 L349.50,257.25 L350.00,257.25 L350.50,257.26 L351.00,257.26 L351.50,257.26 L352.00,257.26 L352.50,257.27 L353.00,257.27 L353.50,257.27 L354.00,257.27 L354.50,257.28 L355.00,257.28 L355.50,257.28 L356.00,257.28 L356.50,257.29 L357.00,257.29 L357.50,257.29 L358.00,257.29 L358.50,257.30 L359.00,257.30 L359.50,257.30 L360.00,257.30 L360.50,257.31 L361.00,257.31 L361.50,257.31 L362.00,257.31 L362.50,257.32 L363.00,257.32 L363.50,257.32 L364.00,257.32 L364.50,257.33 L365.00,257.33 L365.50,257.33 L366.00,257.33 L366.50,257.34 L367.00,257.34 L367.50,257.34 L368.00,257.34 L368.50,257.35 L369.00,257.35 L369.50,257.35 L370.00,257.35 L370.50,257.36 L371.00,257.36 L371.50,257.36 L372.00,257.36 L372.50,257.36 L373.00,257.37 L373.50,257.37 L374.00,257.37 L374.50,257.37 L375.00,257.38 L375.50,257.38 L376.00,257.38 L376.50,257.38 L377.00,257.38 L377.50,257.39 L378.00,257.39 L378.50,257.39 L379.00,257.39 L379.50,257.40 L380.00,257.40 L380.50,257.40 L381.00,257.40 L381.50,257.40 L382.00,257.41 L382.50,257.41 L383.00,257.41 L383.50,257.41 L384.00,257.42 L384.50,257.42 L385.00,257.42 L385.50,257.42 L386.00,257.42 L386.50,257.43 L387.00,257.43 L387.50,257.43 L388.00,257.43 L388.50,257.43 L389.00,257.44 L389.50,257.44 L390.00,257.44 L390.50,257.44 L391.00,257.44 L391.50,257.45 L392.00,257.45 L392.50,257.45 L393.00,257.45 L393.50,257.45 L394.00,257.46 L394.50,257.46 L395.00,257.46 L395.50,257.46 L396.00,257.46 L396.50,257.47 L397.00,257.47 L397.50,257.47 L398.00,257.47 L398.50,257.47 L399.00,257.48 L399.50,257.48 L400.00,257.48 L400.50,257.48 L401.00,257.48 L401.50,257.48 L402.00,257.49 L402.50,257.49 L403.00,257.49 L403.50,257.49 L404.00,257.49 L404.50,257.50 L405.00,257.50 L405.50,257.50 L405.80,257.50" stroke="#00bfff" stroke-width="1.8" stroke-dasharray="4 1 1 1 1 1"/>
</g>
<g stroke="#000" stroke-width="1" fill="none">
<rect x="79.0" y="6.5" width="333.0" height="253.0"/>
<path d="M79.00,259.5v-4.0M79.00,6.5v4.0M79.0,259.50h4.0M412.0,259.50h-4.0M145.60,259.5v-4.0M145.60,6.5v4.0M79.0,208.90h4.0M412.0,208.90h-4.0M212.20,259.5v-4.0M212.20,6.5v4.0M79.0,158.30h4.0M412.0,158.30h-4.0M278.80,259.5v-4.0M278.80,6.5v4.0M79.0,107.70h4.0M412.0,107.70h-4.0M345.40,259.5v-4.0M345.40,6.5v4.0M79.0,57.10h4.0M412.0,57.10h-4.0M412.00,259.5v-4.0M412.00,6.5v4.0M79.0,6.50h4.0M412.0,6.50h-4.0"/>
</g>
<g class="tk">
<text x="70.2" y="262.60" text-anchor="end" font-size="12.6px">0</text>
<text x="70.2" y="212.00" text-anchor="end" font-size="12.6px">0.05</text>
<text x="70.2" y="161.40" text-anchor="end" font-size="12.6px">0.1</text>
<text x="70.2" y="110.80" text-anchor="end" font-size="12.6px">0.15</text>
<text x="70.2" y="60.20" text-anchor="end" font-size="12.6px">0.2</text>
<text x="70.2" y="9.60" text-anchor="end" font-size="12.6px">0.25</text>
<text x="80.70" y="277.4" text-anchor="middle" font-size="12.6px">0</text>
<text x="147.30" y="277.4" text-anchor="middle" font-size="12.6px">1</text>
<text x="213.90" y="277.4" text-anchor="middle" font-size="12.6px">2</text>
<text x="280.50" y="277.4" text-anchor="middle" font-size="12.6px">3</text>
<text x="347.10" y="277.4" text-anchor="middle" font-size="12.6px">4</text>
<text x="413.70" y="277.4" text-anchor="middle" font-size="12.6px">5</text>
</g>
<g class="tk">
<text x="305.1" y="21.00">Λ</text>
<path d="M317.9,17.75H328.7M326.0,15.70Q327.0,17.30 329.1,17.75Q327.0,18.20 326.0,19.80" stroke="#000" stroke-width="0.7" fill="none"/>
<text transform="translate(332.3,21.40) scale(1.36,1.05)" x="0" y="0">∞</text>
<text x="313.7" y="36.20">Λ</text>
<path d="M325.9,31.70H333.5M325.9,34.10H333.5" stroke="#000" stroke-width="0.8" fill="none"/>
<text x="337.3" y="36.20" font-size="12.6px">8</text>
<text x="313.7" y="51.40">Λ</text>
<path d="M325.9,46.90H333.5M325.9,49.30H333.5" stroke="#000" stroke-width="0.8" fill="none"/>
<text x="337.3" y="51.40" font-size="12.6px">2</text>
<text x="304.2" y="66.60">Λ</text>
<path d="M316.3,62.10H324.0M316.3,64.50H324.0" stroke="#000" stroke-width="0.8" fill="none"/>
<text x="327.85" y="66.60" font-size="12.6px">0.5</text>
</g>
<g fill="none">
<path d="M353,18.00H394" stroke="#ff0000" stroke-width="2"/>
<path d="M353,33.25H394" stroke="#ffa500" stroke-width="2" stroke-dasharray="2.8 1.05"/>
<path d="M353,48.70H394" stroke="#228b22" stroke-width="2" stroke-dasharray="1 1"/>
<path d="M353,64.00H394" stroke="#00bfff" stroke-width="2" stroke-dasharray="4 1 1 1 1 1" stroke-dashoffset="7"/>
</g>
<g class="it">
<text x="207.4" y="301.5" font-size="17px">t</text>
<text x="213.6" y="296.3" font-size="11.5px" font-style="normal">*</text>
<path d="M225.8,295.1H235.1M225.8,298.3H235.1" stroke="#000" stroke-width="0.9" fill="none"/>
<text x="241.7" y="301.5" font-size="17px">t</text>
<text transform="translate(246.8,301.5) scale(1.14,1)" x="0" y="0" font-size="17.4px">u</text>
<text x="256.9" y="304.5" font-size="12.5px" font-style="normal">0</text>
<path d="M264.9,304.9L270.0,290.0" stroke="#000" stroke-width="0.9" fill="none"/>
<text x="271.6" y="301.5" font-size="17px">l</text>
<text x="276.55" y="304.5" font-size="12.5px" font-style="normal">0</text>
</g>
<g transform="translate(10.2,144.2) rotate(-90)" class="it">
<text transform="scale(1.15,1)" x="0" y="0" font-size="20px">ϵ</text>
<text x="8.9" y="3.6" font-size="15px">M</text>
</g>
</svg>
</body></html>
